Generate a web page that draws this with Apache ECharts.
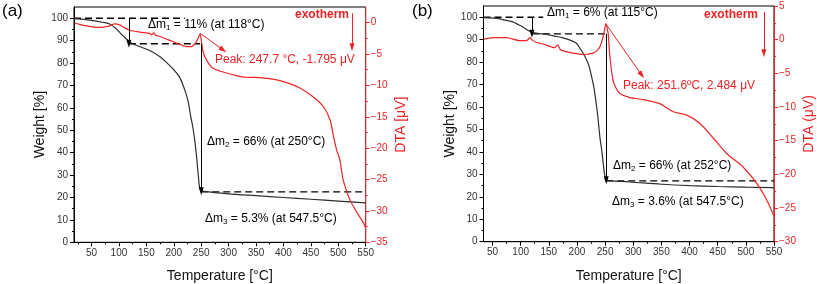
<!DOCTYPE html>
<html><head><meta charset="utf-8">
<script src="https://cdn.jsdelivr.net/npm/echarts@6/dist/echarts.min.js"></script>
<style>html,body{margin:0;padding:0;background:#fff}#c{width:817px;height:284px}</style>
</head><body><div id="c"></div>
<script>
// ---------- DATA ----------
const tgaA_T = [18, 30, 50, 70, 83, 94, 104, 114, 123, 135, 156, 175, 187, 200, 211, 220, 226, 231, 235, 239, 242, 245, 247, 250, 255, 300, 350, 400, 450, 500, 550];
const tgaA_W = [99.8, 99.6, 99.0, 98.2, 97.4, 95.5, 93.0, 90.6, 88.8, 87.6, 85.6, 82.8, 80.2, 77.0, 73.5, 68.0, 63.0, 56.0, 51.0, 44.0, 37.0, 29.0, 24.5, 23.2, 22.7, 21.6, 20.8, 20.0, 19.2, 18.4, 17.6];
const dtaA_T = [19, 30, 41, 55, 65, 75, 83, 92, 101, 110, 120, 138, 156, 160, 163, 167, 175, 198, 215, 223, 232, 238, 242, 245.5, 247.7, 250.5, 253, 256, 260, 266, 272, 284, 308, 332, 357, 381, 406, 430, 454, 473, 485, 491, 497, 503, 509, 521, 533, 546, 550];
const dtaA_V = [-0.05, -0.3, -0.5, -0.7, -0.75, -0.65, -0.5, -0.2, -0.35, -0.8, -1.2, -1.5, -1.7, -1.95, -1.6, -2.0, -2.2, -3.0, -3.6, -3.8, -3.8, -3.4, -2.9, -2.2, -1.8, -3.0, -4.5, -5.3, -6.0, -6.8, -7.3, -7.7, -8.3, -8.7, -8.75, -9.0, -9.55, -10.4, -11.8, -13.4, -15.5, -18.0, -20.3, -21.9, -25.1, -28.2, -30.1, -31.9, -32.7];

const tgaB_T = [34, 50, 63, 80, 87, 95, 104, 112, 119, 130, 146, 160, 175, 190, 199, 205, 212, 218, 222, 226, 230, 234, 237, 241, 244, 247, 249, 251, 254, 260, 294, 350, 400, 450, 500, 550];
const tgaB_W = [99.8, 99.6, 99.3, 98.3, 97.8, 96.8, 95.6, 94.3, 93.3, 92.8, 92.3, 91.6, 90.8, 89.6, 88.4, 86.3, 83.5, 80.5, 77.8, 73.5, 68.9, 62.0, 56.0, 46.0, 40.8, 34.0, 30.0, 28.0, 27.3, 27.1, 26.6, 25.6, 25.0, 24.6, 24.3, 24.1];
const dtaB_T = [34, 51, 75, 98, 110, 114, 116, 120, 125, 146, 160, 164, 166, 170, 173, 193, 211, 229, 236, 241, 245, 248, 251.6, 254, 255.5, 258.5, 264, 270, 276, 294, 318, 347, 371, 395, 418, 442, 466, 495, 519, 537, 550];
const dtaB_V = [0.05, 0.3, 0.3, -0.15, -0.15, 0.1, 0.3, 0.0, -0.3, -0.8, -1.2, -0.9, -0.8, -1.4, -1.6, -2.0, -2.2, -2.0, -1.6, -1.0, 0.0, 1.0, 2.4, 1.5, 0.9, -2.5, -6.0, -7.3, -8.0, -8.6, -8.9, -9.5, -10.7, -11.2, -12.4, -14.6, -16.9, -18.9, -21.3, -23.8, -26.2];

// tick labels
const xTicks = [50, 100, 150, 200, 250, 300, 350, 400, 450, 500, 550];
const xMinor = [25, 75, 125, 175, 225, 275, 325, 375, 425, 475, 525];
const wTicks = [0, 10, 20, 30, 40, 50, 60, 70, 80, 90, 100];
const wMinor = [5, 15, 25, 35, 45, 55, 65, 75, 85, 95];
const dtaA_ticks = [-35, -30, -25, -20, -15, -10, -5, 0];
const dtaA_minor = [-32.5, -27.5, -22.5, -17.5, -12.5, -7.5, -2.5];
const dtaB_ticks = [-30, -25, -20, -15, -10, -5, 0, 5];
const dtaB_minor = [-27.5, -22.5, -17.5, -12.5, -7.5, -2.5, 2.5];

// annotation reference lines (data units)
const dashA_top = [[18, 100], [220, 100]];
const dashA_mid = [[118, 88.6], [248, 88.6]];
const dashA_low = [[250, 22.5], [550, 22.5]];
const arrowA_m1 = [[118, 100], [118, 88.6]];
const arrowA_m2 = [[250, 88.6], [250, 22.8]];
const arrowA_peak = [[248, -1.7], [290, -4.35]];
const arrowA_exo = [[525, 1.5], [525, -3.9]];

const dashB_top = [[34, 100], [140, 100]];
const dashB_mid = [[120, 92.6], [250, 92.6]];
const dashB_low = [[252, 27.1], [550, 27.1]];
const arrowB_m1 = [[120, 100], [120, 92.6]];
const arrowB_m2 = [[252, 92.6], [252, 27.4]];
const arrowB_peak = [[252.5, 2.2], [315, -5.25]];
const arrowB_exo = [[532, 4.1], [532, -2.0]];

// ---------- CHART ----------
const FONT = "'Liberation Sans', Arial, sans-serif";
const RED = '#ee2326';
const BLACK = '#2e2e2e';
const zip = (a, b) => a.map((v, i) => [v, b[i]]);
const minus = v => String(v).replace('-', '\u2212');

const grids = [
  { left: 74, top: 7, width: 291.7, height: 235.3, show: true, borderColor: '#000', borderWidth: 1,
    containLabel: false, outerBoundsMode: 'none' },
  { left: 483.5, top: 6, width: 290.5, height: 235.7, show: true, borderColor: '#000', borderWidth: 1,
    containLabel: false, outerBoundsMode: 'none' }
];

function xAxes(g, min) {
  return [
    { type: 'value', gridIndex: g, min: min, max: 550, position: 'bottom',
      axisLine: { lineStyle: { color: '#000', width: 1 } },
      axisTick: { show: true, inside: false, length: 4, customValues: xTicks, lineStyle: { color: '#000' } },
      axisLabel: { customValues: xTicks, fontSize: 10, color: '#333', margin: 6, fontFamily: FONT },
      splitLine: { show: false },
      name: 'Temperature [°C]', nameLocation: 'middle', nameGap: 27,
      nameTextStyle: { fontSize: 14, color: '#111', fontFamily: FONT } },
    { type: 'value', gridIndex: g, min: min, max: 550, position: 'bottom',
      axisLine: { show: false },
      axisTick: { show: true, length: 2, customValues: xMinor, lineStyle: { color: '#000' } },
      axisLabel: { show: false }, splitLine: { show: false } }
  ];
}
function yAxes(g, dmin, dmax, dTicks, dMinor, dName) {
  return [
    { type: 'value', gridIndex: g, min: 0, max: 105, position: 'left',
      axisLine: { show: true, lineStyle: { color: '#000', width: 1 } },
      axisTick: { show: true, length: 4, customValues: wTicks, lineStyle: { color: '#000' } },
      axisLabel: { customValues: wTicks, fontSize: 10, color: '#333', margin: 6, fontFamily: FONT },
      splitLine: { show: false },
      name: 'Weight [%]', nameLocation: 'middle', nameGap: 21,
      nameTextStyle: { fontSize: 14, color: '#111', fontFamily: FONT } },
    { type: 'value', gridIndex: g, min: 0, max: 105, position: 'left',
      axisLine: { show: false },
      axisTick: { show: true, length: 2, customValues: wMinor, lineStyle: { color: '#000' } },
      axisLabel: { show: false }, splitLine: { show: false } },
    { type: 'value', gridIndex: g, min: dmin, max: dmax, position: 'right',
      axisLine: { show: true, lineStyle: { color: RED, width: 1 } },
      axisTick: { show: true, length: 4, customValues: dTicks, lineStyle: { color: RED } },
      axisLabel: { customValues: dTicks, fontSize: 10, color: RED, margin: 5, fontFamily: FONT, formatter: minus },
      splitLine: { show: false },
      name: dName, nameLocation: 'middle', nameGap: 28,
      nameTextStyle: { fontSize: 14, color: RED, fontFamily: FONT } },
    { type: 'value', gridIndex: g, min: dmin, max: dmax, position: 'right',
      axisLine: { show: false },
      axisTick: { show: true, length: 2, customValues: dMinor, lineStyle: { color: RED } },
      axisLabel: { show: false }, splitLine: { show: false } }
  ];
}

function arrowML(color, lines) {
  return {
    silent: true, animation: false,
    symbol: ['none', 'triangle'], symbolSize: 7,
    lineStyle: { type: 'solid', color: color, width: 1 },
    itemStyle: { color: color },
    label: { show: false }, emphasis: { disabled: true },
    data: lines.map(l => [
      { coord: l[0], symbol: 'none' },
      { coord: l[1], symbol: 'triangle', symbolSize: [5, 8] }
    ])
  };
}
function dashSeries(xi, yi, pts) {
  return { type: 'line', xAxisIndex: xi, yAxisIndex: yi, data: pts, showSymbol: false, silent: true,
    lineStyle: { color: '#000', width: 1.4, type: [7, 4] }, z: 3 };
}

const series = [
  // panel a
  { type: 'line', xAxisIndex: 0, yAxisIndex: 0, data: zip(tgaA_T, tgaA_W), showSymbol: false, smooth: 0.3,
    lineStyle: { color: BLACK, width: 1.2 }, markLine: arrowML('#000', [arrowA_m1, arrowA_m2]), z: 4 },
  { type: 'line', xAxisIndex: 0, yAxisIndex: 2, data: zip(dtaA_T, dtaA_V), showSymbol: false, smooth: 0.3,
    lineStyle: { color: RED, width: 1.2 }, markLine: arrowML(RED, [arrowA_peak, arrowA_exo]), z: 4 },
  dashSeries(0, 0, dashA_top), dashSeries(0, 0, dashA_mid), dashSeries(0, 0, dashA_low),
  // panel b
  { type: 'line', xAxisIndex: 2, yAxisIndex: 4, data: zip(tgaB_T, tgaB_W), showSymbol: false, smooth: 0.3,
    lineStyle: { color: BLACK, width: 1.2 }, markLine: arrowML('#000', [arrowB_m1, arrowB_m2]), z: 4 },
  { type: 'line', xAxisIndex: 2, yAxisIndex: 6, data: zip(dtaB_T, dtaB_V), showSymbol: false, smooth: 0.3,
    lineStyle: { color: RED, width: 1.2 }, markLine: arrowML(RED, [arrowB_peak, arrowB_exo]), z: 4 },
  dashSeries(2, 4, dashB_top), dashSeries(2, 4, dashB_mid), dashSeries(2, 4, dashB_low)
];

const subRich = { sub: { fontSize: 8, padding: [6, 0, 0, 0], fontFamily: FONT, fill: '#000' } };
function txt(left, top, text, opts) {
  opts = opts || {};
  return { type: 'text', left: left, top: top, silent: true, z: 10,
    style: { text: text, fontSize: opts.size || 12, fontWeight: opts.bold ? 'bold' : 'normal',
      fontFamily: FONT, fill: opts.color || '#000', rich: subRich } };
}

const graphic = [
  txt(2, 3, '(a)', { size: 17 }),
  txt(148, 19, 'Δm{sub|1} = 11% (at 118°C)'),
  txt(295, 9, 'exotherm', { bold: true, color: RED }),
  txt(215, 54, 'Peak: 247.7 °C, -1.795 μV', { color: RED }),
  txt(207, 136, 'Δm{sub|2} = 66% (at 250°C)'),
  txt(205, 213, 'Δm{sub|3} = 5.3% (at 547.5°C)'),
  txt(412, 3, '(b)', { size: 17 }),
  txt(547, 7, 'Δm{sub|1} = 6% (at 115°C)'),
  txt(704, 9, 'exotherm', { bold: true, color: RED }),
  txt(623, 80, 'Peak: 251.6ºC, 2.484 μV', { color: RED }),
  txt(613, 160, 'Δm{sub|2} = 66% (at 252°C)'),
  txt(612, 196, 'Δm{sub|3} = 3.6% (at 547.5°C)')
];

const chart = echarts.init(document.getElementById('c'), null, { renderer: 'canvas' });
chart.setOption({
  animation: false,
  backgroundColor: '#fff',
  textStyle: { fontFamily: FONT },
  grid: grids,
  xAxis: [].concat(xAxes(0, 18), xAxes(1, 34)),
  yAxis: [].concat(
    yAxes(0, -35, 2.5, dtaA_ticks, dtaA_minor, 'DTA [μV]'),
    yAxes(1, -30, 5, dtaB_ticks, dtaB_minor, 'DTA (μV)')
  ),
  series: series,
  graphic: graphic
});
</script>
</body></html>
